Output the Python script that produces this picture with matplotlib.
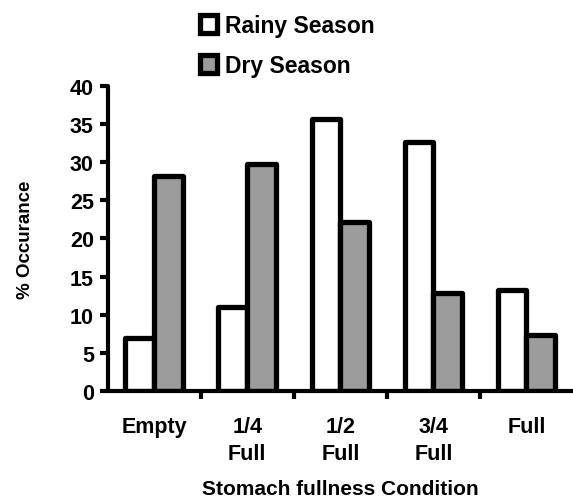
import numpy as np
import matplotlib.pyplot as plt

categories = ['Empty', '1/4\nFull', '1/2\nFull', '3/4\nFull', 'Full']
rainy = [7.0, 11.0, 35.7, 32.6, 13.2]
dry = [28.2, 29.7, 22.2, 12.8, 7.3]

plt.rcParams['font.family'] = 'Liberation Sans'
plt.rcParams['font.weight'] = 'bold'

fig = plt.figure(figsize=(5.73, 5.02), dpi=100)
ax = fig.add_axes([0.188, 0.219, 0.812, 0.608])

x = np.arange(len(categories))
w = 0.31
ax.bar(x - w / 2, rainy, w, color='white', edgecolor='black', linewidth=3.8,
       joinstyle='round', label='Rainy Season')
ax.bar(x + w / 2, dry, w, color='#9c9c9c', edgecolor='black', linewidth=3.8,
       joinstyle='round', label='Dry Season')

ax.set_xlim(-0.5, 4.5)
ax.set_ylim(0, 40)
ax.set_yticks(range(0, 41, 5))

# boundary ticks on x, labels centered on groups
ax.set_xticks([0.5, 1.5, 2.5, 3.5])
ax.set_xticklabels([])
ax.set_xticks(x, minor=True)
ax.set_xticklabels(categories, minor=True, fontsize=15.5, fontweight='bold',
                   linespacing=1.35)
ax.tick_params(axis='x', which='minor', length=0, pad=18)
ax.tick_params(axis='x', which='major', length=6, width=3, direction='out')
ax.tick_params(axis='y', length=6, width=3, direction='out', labelsize=15.5, pad=4)

for s in ['top', 'right']:
    ax.spines[s].set_visible(False)
for s in ['left', 'bottom']:
    ax.spines[s].set_linewidth(3)
    ax.spines[s].set_capstyle('round')

ax.set_ylabel('% Occurance', fontsize=13.5, fontweight='bold', labelpad=26)
ax.set_xlabel('Stomach fullness Condition', fontsize=15, fontweight='bold', labelpad=11)

ax.legend(loc='lower left', bbox_to_anchor=(0.178, 0.998), frameon=False,
          fontsize=16.5, handlelength=0.75, handleheight=0.85, handletextpad=0.35,
          labelspacing=0.75, borderaxespad=0)

fig.savefig('out.png', dpi=100)
